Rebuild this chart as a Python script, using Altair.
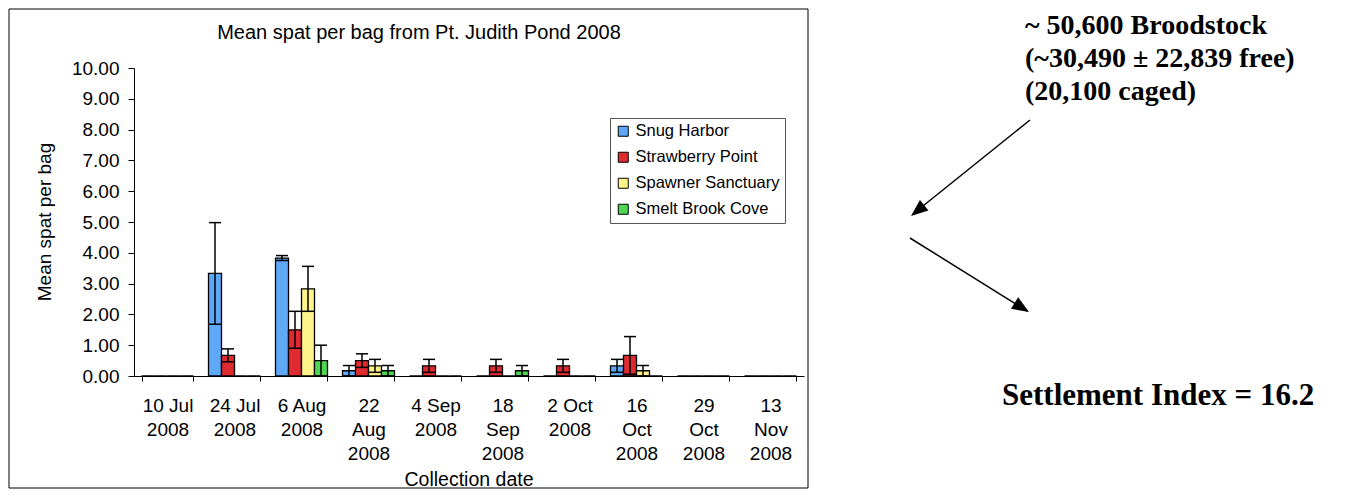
import altair as alt
import pandas as pd

# ---------------- data ----------------
dates = ["10 Jul|2008", "24 Jul|2008", "6 Aug|2008", "22|Aug|2008", "4 Sep|2008",
         "18|Sep|2008", "2 Oct|2008", "16|Oct|2008", "29|Oct|2008", "13|Nov|2008"]
sites = ["Snug Harbor", "Strawberry Point", "Spawner Sanctuary", "Smelt Brook Cove"]
colors = ["#5FA8F8", "#DF2A2F", "#FFF48C", "#4CD651"]

snug_mean = [0, 3.33, 3.83, 0.17, 0, 0, 0, 0.33, 0, 0]
snug_err = [0, 1.65, 0.08, 0.17, 0, 0, 0, 0.21, 0, 0]
straw_mean = [0, 0.67, 1.50, 0.50, 0.33, 0.33, 0.33, 0.67, 0, 0]
straw_err = [0, 0.21, 0.60, 0.22, 0.21, 0.21, 0.21, 0.61, 0, 0]
spawn_mean = [0, 0, 2.83, 0.33, 0, 0, 0, 0.17, 0, 0]
spawn_err = [0, 0, 0.73, 0.21, 0, 0, 0, 0.17, 0, 0]
smelt_mean = [0, 0, 0.50, 0.17, 0, 0.17, 0, 0, 0, 0]
smelt_err = [0, 0, 0.50, 0.17, 0, 0.17, 0, 0, 0, 0]

y_ticks = [0, 1, 2, 3, 4, 5, 6, 7, 8, 9, 10]

chart_title = "Mean spat per bag from Pt. Judith Pond 2008"
y_title = "Mean spat per bag"
x_title = "Collection date"
note_lines = ["~ 50,600 Broodstock", "(~30,490 \u00b1 22,839 free)", "(20,100 caged)"]
index_text = "Settlement Index = 16.2"

# ---------------- table ----------------
means = [snug_mean, straw_mean, spawn_mean, smelt_mean]
errs = [snug_err, straw_err, spawn_err, smelt_err]
rows = []
for s, m_list, e_list in zip(sites, means, errs):
    for d, m, e in zip(dates, m_list, e_list):
        rows.append({"date": d, "site": s, "mean": m, "err": e,
                     "lower": max(m - e, 0), "upper": m + e})
df = pd.DataFrame(rows)

SANS = "Liberation Sans"
SERIF = "Liberation Serif"
dummy = alt.Data(values=[{}])

x_enc = alt.X("date:N", sort=dates, title=None,
              scale=alt.Scale(paddingInner=0.224, paddingOuter=0.112),
              axis=alt.Axis(labelExpr="isValid(datum.value) ? split(datum.value, '|') : ''",
                            labelAngle=0,
                            labelFont=SANS, labelFontSize=19, labelColor="black",
                            labelLineHeight=24, labelBaseline="top", labelPadding=15,
                            labelOverlap=False,
                            tickBand="extent", tickSize=5, tickColor="black",
                            domainColor="black", grid=False, zindex=1))
xo_enc = alt.XOffset("site:N", sort=sites,
                     scale=alt.Scale(paddingInner=0, paddingOuter=0))
y_scale = alt.Scale(domain=[0, 10], nice=False)
y_axis = alt.Axis(values=y_ticks, tickCount=11, format=".2f", labelFont=SANS,
                  labelFontSize=19, labelColor="black", tickSize=6,
                  labelPadding=9, tickColor="black", domainColor="black",
                  labelOverlap=False, grid=False, zindex=1)

base = alt.Chart(df).encode(x=x_enc, xOffset=xo_enc)

bars = base.mark_bar(stroke="black", strokeWidth=1.3).encode(
    y=alt.Y("mean:Q", scale=y_scale, title=None, axis=y_axis),
    color=alt.Color("site:N", sort=sites,
                    scale=alt.Scale(domain=sites, range=colors),
                    legend=alt.Legend(title=None, orient="none", legendX=476, legendY=50,
                                      direction="vertical", symbolType="square",
                                      symbolSize=100, symbolStrokeColor="black",
                                      symbolStrokeWidth=1, symbolOpacity=1,
                                      labelFont=SANS, labelFontSize=16.5,
                                      labelColor="black", labelOffset=4,
                                      rowPadding=9, padding=5,
                                      strokeColor="#555555", fillColor="white",
                                      labelLimit=300)),
)

err_base = base.transform_filter("datum.err > 0")
err_rule = err_base.mark_rule(color="black", strokeWidth=1.5).encode(
    y=alt.Y("lower:Q", scale=y_scale, title=None, axis=y_axis), y2="upper:Q")
cap_top = err_base.mark_tick(color="black", thickness=1.5, size=12,
                             orient="horizontal", opacity=1).encode(
    y=alt.Y("upper:Q", scale=y_scale, title=None, axis=y_axis))
cap_low = err_base.mark_tick(color="black", thickness=1.5, size=12,
                             orient="horizontal", opacity=1).encode(
    y=alt.Y("lower:Q", scale=y_scale, title=None, axis=y_axis))

frame = alt.Chart(dummy).mark_rect(fill="white", stroke="black", strokeWidth=1).encode(
    x=alt.value(-125), x2=alt.value(674), y=alt.value(-59), y2=alt.value(420))

title_t = alt.Chart(dummy).mark_text(text=chart_title, font=SANS, fontSize=20,
                                     color="black", align="center", baseline="middle").encode(
    x=alt.value(285), y=alt.value(-35))
ytitle_t = alt.Chart(dummy).mark_text(text=y_title, font=SANS, fontSize=19,
                                      color="black", align="center", baseline="middle",
                                      angle=270).encode(
    x=alt.value(-89), y=alt.value(154))
xtitle_t = alt.Chart(dummy).mark_text(text=x_title, font=SANS, fontSize=19.5,
                                      color="black", align="center", baseline="middle").encode(
    x=alt.value(335), y=alt.value(412))

notes = []
for i, line in enumerate(note_lines):
    notes.append(alt.Chart(dummy).mark_text(text=line, font=SERIF, fontSize=28,
                                            fontWeight="bold", color="black",
                                            align="left", baseline="middle").encode(
        x=alt.value(891), y=alt.value(-42 + 33 * i)))
index_t = alt.Chart(dummy).mark_text(text=index_text, font=SERIF, fontSize=31,
                                     fontWeight="bold", color="black",
                                     align="left", baseline="middle").encode(
    x=alt.value(868), y=alt.value(328))

arrow_path = "M0,0 L0.4,1 L-0.4,1 Z"
arrow1 = alt.Chart(dummy).mark_rule(color="black", strokeWidth=1.5).encode(
    x=alt.value(896), y=alt.value(52), x2=alt.value(779), y2=alt.value(146))
head1 = alt.Chart(dummy).mark_point(shape=arrow_path, filled=True, fill="black",
                                    opacity=1, size=1156, angle=231, strokeWidth=0).encode(
    x=alt.value(777), y=alt.value(148))
arrow2 = alt.Chart(dummy).mark_rule(color="black", strokeWidth=1.5).encode(
    x=alt.value(776), y=alt.value(170), x2=alt.value(893), y2=alt.value(243))
head2 = alt.Chart(dummy).mark_point(shape=arrow_path, filled=True, fill="black",
                                    opacity=1, size=1156, angle=122, strokeWidth=0).encode(
    x=alt.value(895), y=alt.value(244))

chart = alt.layer(frame, bars, err_rule, cap_top, cap_low, title_t, ytitle_t, xtitle_t,
                  *notes, index_t, arrow1, head1, arrow2, head2).properties(
    width=670, height=308,
    autosize=alt.AutoSizeParams(type="none"),
    padding={"left": 126, "top": 60, "right": 537, "bottom": 114},
    background="white",
).configure_view(stroke=None)

chart.save("out.html", embed_options={"renderer": "svg", "actions": False})
